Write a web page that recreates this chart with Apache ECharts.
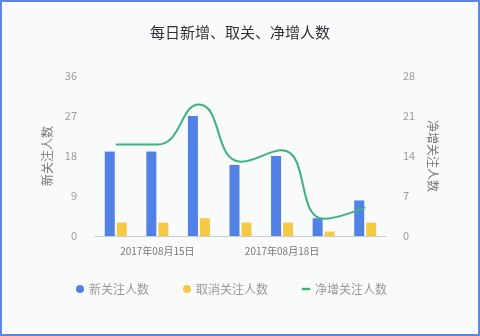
<!DOCTYPE html>
<html>
<head>
<meta charset="utf-8">
<script src="https://cdn.jsdelivr.net/npm/echarts@6/dist/echarts.min.js"></script>
<style>
  html, body { margin: 0; padding: 0; background: #f9fafa; }
  #wrap { position: relative; width: 480px; height: 336px; }
  #chart { width: 480px; height: 336px; }
  #frame { position: absolute; left: 0; top: 0; width: 480px; height: 336px;
           box-sizing: border-box; border: 2px solid #5b86e2; pointer-events: none; }
</style>
</head>
<body>
<div id="wrap">
  <div id="chart"></div>
  <div id="frame"></div>
</div>
<script>
// Daily follower stats, one entry per day
const dates = ['2017年08月14日', '2017年08月15日', '2017年08月16日', '2017年08月17日',
               '2017年08月18日', '2017年08月19日', '2017年08月20日'];
const newFollowers = [19, 19, 27, 16, 18, 4, 8];
const unfollows = [3, 3, 4, 3, 3, 1, 3];
const netGrowth = [16, 16, 23, 13, 15, 3, 5];
const leftTicks = { min: 0, max: 36, interval: 9 };
const rightTicks = { min: 0, max: 28, interval: 7 };

const font = '"Noto Sans CJK SC", "Noto Sans", sans-serif';
const chart = echarts.init(document.getElementById('chart'));
chart.setOption({
  backgroundColor: '#f9fafa',
  textStyle: { fontFamily: font },
  title: {
    text: '每日新增、取关、净增人数',
    left: 'center',
    top: 20,
    textStyle: { fontSize: 15, fontWeight: 'normal', color: '#2f3338', fontFamily: font }
  },
  legend: {
    left: 71,
    top: 278,
    itemWidth: 8,
    itemHeight: 8,
    itemGap: 34,
    textStyle: { fontSize: 12, color: '#999', fontFamily: font },
    data: [
      { name: '新关注人数', icon: 'circle' },
      { name: '取消关注人数', icon: 'circle' },
      { name: '净增关注人数', icon: 'path://M0,0 H10 V3 H0 Z' }
    ]
  },
  grid: { left: 95, right: 94, top: 76, bottom: 100 },
  xAxis: {
    type: 'category',
    data: dates,
    axisLine: { lineStyle: { color: '#ccc' } },
    axisTick: { show: false },
    axisLabel: {
      color: '#777',
      fontSize: 10,
      margin: 10,
      interval: function (i) { return i % 3 === 1; }
    }
  },
  yAxis: [
    {
      type: 'value',
      min: leftTicks.min, max: leftTicks.max, interval: leftTicks.interval,
      name: '新关注人数',
      nameLocation: 'middle',
      nameGap: 35,
      nameTextStyle: { color: '#777', fontSize: 12 },
      axisLine: { show: false },
      axisTick: { show: false },
      splitLine: { show: false },
      axisLabel: { color: '#999', fontSize: 11, margin: 18 }
    },
    {
      type: 'value',
      min: rightTicks.min, max: rightTicks.max, interval: rightTicks.interval,
      name: '净增关注人数',
      nameLocation: 'middle',
      nameGap: 31,
      nameRotate: -90,
      nameTextStyle: { color: '#777', fontSize: 12 },
      axisLine: { show: false },
      axisTick: { show: false },
      splitLine: { show: false },
      axisLabel: { color: '#999', fontSize: 11, margin: 17 }
    }
  ],
  series: [
    {
      name: '新关注人数',
      type: 'bar',
      barWidth: 10,
      barGap: '20%',
      itemStyle: { color: '#5181e4' },
      data: newFollowers
    },
    {
      name: '取消关注人数',
      type: 'bar',
      barWidth: 10,
      itemStyle: { color: '#f6c944' },
      data: unfollows
    },
    {
      name: '净增关注人数',
      type: 'line',
      yAxisIndex: 1,
      smooth: true,
      showSymbol: false,
      symbol: 'none',
      lineStyle: { color: '#3db27d', width: 2 },
      itemStyle: { color: '#3db27d' },
      data: netGrowth
    }
  ]
});
</script>
</body>
</html>
